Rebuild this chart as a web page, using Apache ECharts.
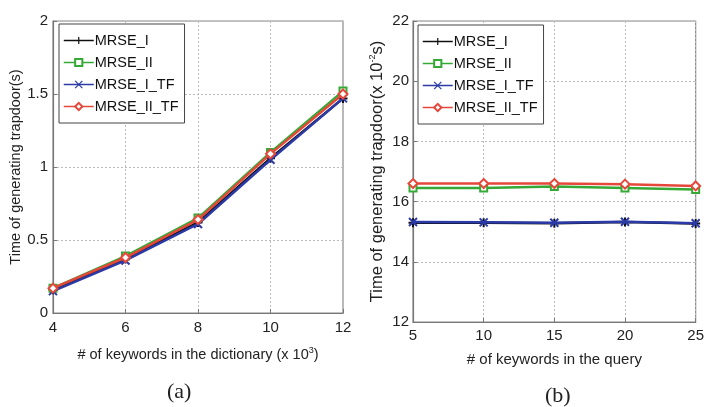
<!DOCTYPE html>
<html><head><meta charset="utf-8">
<script src="https://cdn.jsdelivr.net/npm/echarts@6/dist/echarts.min.js"></script>
<style>html,body{margin:0;padding:0;background:#fff}#c{width:707px;height:407px}</style>
</head><body><div id="c"></div>
<script>
// Panel (a)
const xA = [4, 6, 8, 10, 12];
const a_MRSE_I = [0.16, 0.37, 0.62, 1.06, 1.47];
const a_MRSE_II = [0.17, 0.39, 0.65, 1.10, 1.52];
const a_MRSE_I_TF = [0.15, 0.36, 0.61, 1.05, 1.47];
const a_MRSE_II_TF = [0.17, 0.38, 0.64, 1.09, 1.50];
// Panel (b)
const xB = [5, 10, 15, 20, 25];
const b_MRSE_I = [15.30, 15.30, 15.28, 15.32, 15.27];
const b_MRSE_II = [16.45, 16.45, 16.50, 16.45, 16.40];
const b_MRSE_I_TF = [15.32, 15.31, 15.30, 15.33, 15.28];
const b_MRSE_II_TF = [16.60, 16.60, 16.60, 16.58, 16.52];
const names = ['MRSE_I', 'MRSE_II', 'MRSE_I_TF', 'MRSE_II_TF'];

const FONT = 'Liberation Sans';
const colors = ['#111111', '#35a935', '#2b3aa6', '#e5483a'];
const plusPath = 'path://M0,5L10,5M5,0L5,10';
const crossPath = 'path://M1,1L9,9M9,1L1,9';
const symbols = [plusPath, 'emptyRect', crossPath, 'emptyDiamond'];
const symSizes = [9, 7, 8, 9];

function pairs(xs, ys) { return xs.map((x, i) => [x, ys[i]]); }

function mkSeries(idx, dataA) {
  return dataA.map((d, i) => ({
    type: 'line', name: names[i], xAxisIndex: idx, yAxisIndex: idx,
    data: d, symbol: symbols[i], symbolSize: symSizes[i], showSymbol: true,
    lineStyle: { color: colors[i], width: 2.5 },
    itemStyle: { color: colors[i], borderColor: colors[i], borderWidth: 2 },
    z: 2 + i, animation: false
  }));
}

const series = [
  ...mkSeries(0, [pairs(xA, a_MRSE_I), pairs(xA, a_MRSE_II), pairs(xA, a_MRSE_I_TF), pairs(xA, a_MRSE_II_TF)]),
  ...mkSeries(1, [pairs(xB, b_MRSE_I), pairs(xB, b_MRSE_II), pairs(xB, b_MRSE_I_TF), pairs(xB, b_MRSE_II_TF)])
];

const supStyle = { sup: { fontSize: 9, fontFamily: FONT, color: '#222', verticalAlign: 'top', padding: [0, 0, 9, 0] } };
const axisCommon = {
  axisLine: { show: true, lineStyle: { color: '#777', width: 1.2 } },
  axisTick: { show: true, inside: true, length: 4, lineStyle: { color: '#777' } },
  splitLine: { show: true, lineStyle: { color: '#bbb', type: [2, 2], width: 1 } },
  axisLabel: { color: '#222', fontFamily: FONT, fontSize: 15 },
  nameTextStyle: { color: '#222', fontFamily: FONT, fontSize: 14.5 }
};

const legendCommon = {
  data: names, orient: 'vertical', itemGap: 7, itemWidth: 30, itemHeight: 9,
  backgroundColor: '#fff', borderColor: '#444', borderWidth: 1, padding: [9, 6, 9, 4],
  textStyle: { fontFamily: FONT, fontSize: 14.5, color: '#111', padding: [0, 0, 0, -4] },
  lineStyle: { width: 1.5 },
  itemStyle: { borderWidth: 1.2 },
  selectedMode: false
};

const option = {
  animation: false,
  grid: [
    { left: 53, top: 21, width: 290, height: 292, show: true, borderColor: '#888', borderWidth: 1.2, backgroundColor: '#fff' },
    { left: 413, top: 21, width: 289, height: 301, show: true, borderColor: '#888', borderWidth: 1.2, backgroundColor: '#fff' }
  ],
  xAxis: [
    Object.assign({}, axisCommon, {
      type: 'value', gridIndex: 0, min: 4, max: 12, interval: 2,
      name: '# of keywords in the dictionary (x 10{sup|3})', nameLocation: 'middle', nameGap: 33,
      nameTextStyle: Object.assign({}, axisCommon.nameTextStyle, { rich: supStyle }),
      axisLabel: Object.assign({}, axisCommon.axisLabel, { margin: 7 })
    }),
    Object.assign({}, axisCommon, {
      type: 'value', gridIndex: 1, min: 5, max: 25, interval: 5,
      name: '# of keywords in the query', nameLocation: 'middle', nameGap: 30,
      nameTextStyle: Object.assign({}, axisCommon.nameTextStyle, { fontSize: 15 }),
      axisLabel: Object.assign({}, axisCommon.axisLabel, { margin: 6 })
    })
  ],
  yAxis: [
    Object.assign({}, axisCommon, {
      type: 'value', gridIndex: 0, min: 0, max: 2, interval: 0.5,
      name: 'Time of generating trapdoor(s)', nameLocation: 'middle', nameGap: 30, nameRotate: 90,
      axisLabel: Object.assign({}, axisCommon.axisLabel, { margin: 5 })
    }),
    Object.assign({}, axisCommon, {
      type: 'value', gridIndex: 1, min: 12, max: 22, interval: 2,
      name: 'Time of generating trapdoor(x 10{sup|-2}s)', nameLocation: 'middle', nameGap: 27, nameRotate: 90,
      nameTextStyle: Object.assign({}, axisCommon.nameTextStyle, { fontSize: 16.5, rich: supStyle }),
      axisLabel: Object.assign({}, axisCommon.axisLabel, { margin: 4 })
    })
  ],
  legend: [
    Object.assign({}, legendCommon, { left: 59, top: 24 }),
    Object.assign({}, legendCommon, { left: 418, top: 25 })
  ],
  graphic: [
    { type: 'text', left: 167, top: 381, style: { text: '(a)', fontFamily: 'Liberation Serif', fontSize: 22, fill: '#222' } },
    { type: 'text', left: 545, top: 385, style: { text: '(b)', fontFamily: 'Liberation Serif', fontSize: 22, fill: '#222' } }
  ],
  series: series
};

const chart = echarts.init(document.getElementById('c'), null, { renderer: 'canvas' });
chart.setOption(option);
</script>
</body></html>
